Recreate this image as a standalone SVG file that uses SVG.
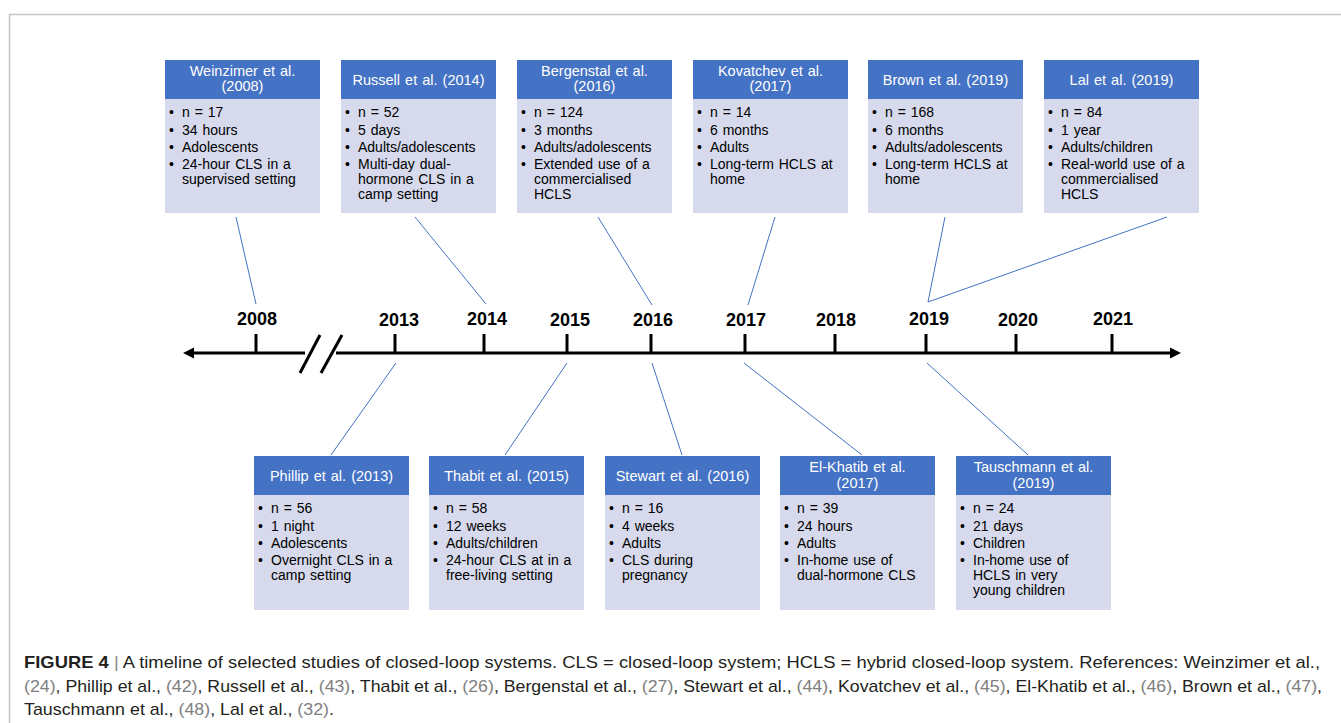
<svg xmlns="http://www.w3.org/2000/svg" width="1341" height="723" viewBox="0 0 1341 723">
<style>
.hd{fill:#4472C4}
.bd{fill:#D6DAEC}
.ht{font-family:"Liberation Sans",Arial,sans-serif;font-size:14.5px;word-spacing:1px;fill:#fff;text-anchor:middle}
.bt{font-family:"Liberation Sans",Arial,sans-serif;font-size:14px;word-spacing:1px;fill:#000}
.yr{font-family:"Liberation Sans",Arial,sans-serif;font-size:18px;font-weight:bold;fill:#000;text-anchor:middle}
.cn{stroke:#4472C4;stroke-width:1;fill:none}
.ax{stroke:#000;stroke-width:3;fill:none}
.cap{font-family:"Liberation Sans Narrow","Liberation Sans",Arial,sans-serif;font-size:17px;fill:#231F20}
.ref{fill:#808080}
</style>
<rect width="1341" height="723" fill="#fff"/>
<path d="M9.5 723 V14.5 H1341" stroke="#c4c4c4" stroke-width="1.5" fill="none"/>

<g id="connectors">
<line class="cn" x1="236" y1="217" x2="256" y2="304"/>
<line class="cn" x1="415" y1="217" x2="486" y2="304"/>
<line class="cn" x1="598" y1="217" x2="652" y2="305"/>
<line class="cn" x1="775" y1="217" x2="748" y2="305"/>
<line class="cn" x1="945" y1="217" x2="928" y2="302"/>
<line class="cn" x1="1167" y1="217" x2="928" y2="302"/>
<line class="cn" x1="396" y1="363" x2="331" y2="455"/>
<line class="cn" x1="567" y1="363" x2="505" y2="455"/>
<line class="cn" x1="652" y1="363" x2="682" y2="455"/>
<line class="cn" x1="744" y1="363" x2="862" y2="455"/>
<line class="cn" x1="927" y1="363" x2="1028" y2="455"/>
</g>

<g id="timeline">
<line class="ax" x1="190" y1="353" x2="305" y2="353"/>
<line class="ax" x1="336" y1="353" x2="1172" y2="353"/>
<path d="M183 353 L194 347.5 L194 358.5 Z" fill="#000"/>
<path d="M1181 353 L1170 347.5 L1170 358.5 Z" fill="#000"/>
<line class="ax" x1="300" y1="373" x2="320" y2="335"/>
<line class="ax" x1="321" y1="373" x2="342" y2="335"/>
<line class="ax" x1="256" y1="334" x2="256" y2="353"/>
<line class="ax" x1="395" y1="334" x2="395" y2="353"/>
<line class="ax" x1="484" y1="334" x2="484" y2="353"/>
<line class="ax" x1="567" y1="334" x2="567" y2="353"/>
<line class="ax" x1="651" y1="334" x2="651" y2="353"/>
<line class="ax" x1="745" y1="334" x2="745" y2="353"/>
<line class="ax" x1="835" y1="334" x2="835" y2="353"/>
<line class="ax" x1="926" y1="334" x2="926" y2="353"/>
<line class="ax" x1="1016" y1="334" x2="1016" y2="353"/>
<line class="ax" x1="1112" y1="334" x2="1112" y2="353"/>
<text class="yr" x="257" y="325">2008</text>
<text class="yr" x="399" y="326">2013</text>
<text class="yr" x="487" y="325">2014</text>
<text class="yr" x="570" y="326">2015</text>
<text class="yr" x="653" y="326">2016</text>
<text class="yr" x="746" y="326">2017</text>
<text class="yr" x="836" y="326">2018</text>
<text class="yr" x="929" y="325">2019</text>
<text class="yr" x="1018" y="326">2020</text>
<text class="yr" x="1113" y="325">2021</text>
</g>

<g id="weinzimer" transform="translate(165,60)">
<rect class="hd" width="155" height="39"/><rect class="bd" y="39" width="155" height="114"/>
<text class="ht" x="77.5" y="16">Weinzimer et al.</text><text class="ht" x="77.5" y="31">(2008)</text>
<text class="bt" y="57"><tspan x="4">•</tspan><tspan x="17">n = 17</tspan></text>
<text class="bt" y="75"><tspan x="4">•</tspan><tspan x="17">34 hours</tspan></text>
<text class="bt" y="92"><tspan x="4">•</tspan><tspan x="17">Adolescents</tspan></text>
<text class="bt" y="109"><tspan x="4">•</tspan><tspan x="17">24-hour CLS in a</tspan></text>
<text class="bt" x="17" y="124">supervised setting</text>
</g>

<g id="russell" transform="translate(341,60)">
<rect class="hd" width="155" height="39"/><rect class="bd" y="39" width="155" height="114"/>
<text class="ht" x="77.5" y="25">Russell et al. (2014)</text>
<text class="bt" y="57"><tspan x="4">•</tspan><tspan x="17">n = 52</tspan></text>
<text class="bt" y="75"><tspan x="4">•</tspan><tspan x="17">5 days</tspan></text>
<text class="bt" y="92"><tspan x="4">•</tspan><tspan x="17">Adults/adolescents</tspan></text>
<text class="bt" y="109"><tspan x="4">•</tspan><tspan x="17">Multi-day dual-</tspan></text>
<text class="bt" x="17" y="124">hormone CLS in a</text>
<text class="bt" x="17" y="139">camp setting</text>
</g>

<g id="bergenstal" transform="translate(517,60)">
<rect class="hd" width="155" height="39"/><rect class="bd" y="39" width="155" height="114"/>
<text class="ht" x="77.5" y="16">Bergenstal et al.</text><text class="ht" x="77.5" y="31">(2016)</text>
<text class="bt" y="57"><tspan x="4">•</tspan><tspan x="17">n = 124</tspan></text>
<text class="bt" y="75"><tspan x="4">•</tspan><tspan x="17">3 months</tspan></text>
<text class="bt" y="92"><tspan x="4">•</tspan><tspan x="17">Adults/adolescents</tspan></text>
<text class="bt" y="109"><tspan x="4">•</tspan><tspan x="17">Extended use of a</tspan></text>
<text class="bt" x="17" y="124">commercialised</text>
<text class="bt" x="17" y="139">HCLS</text>
</g>

<g id="kovatchev" transform="translate(693,60)">
<rect class="hd" width="155" height="39"/><rect class="bd" y="39" width="155" height="114"/>
<text class="ht" x="77.5" y="16">Kovatchev et al.</text><text class="ht" x="77.5" y="31">(2017)</text>
<text class="bt" y="57"><tspan x="4">•</tspan><tspan x="17">n = 14</tspan></text>
<text class="bt" y="75"><tspan x="4">•</tspan><tspan x="17">6 months</tspan></text>
<text class="bt" y="92"><tspan x="4">•</tspan><tspan x="17">Adults</tspan></text>
<text class="bt" y="109"><tspan x="4">•</tspan><tspan x="17">Long-term HCLS at</tspan></text>
<text class="bt" x="17" y="124">home</text>
</g>

<g id="brown" transform="translate(868,60)">
<rect class="hd" width="155" height="39"/><rect class="bd" y="39" width="155" height="114"/>
<text class="ht" x="77.5" y="25">Brown et al. (2019)</text>
<text class="bt" y="57"><tspan x="4">•</tspan><tspan x="17">n = 168</tspan></text>
<text class="bt" y="75"><tspan x="4">•</tspan><tspan x="17">6 months</tspan></text>
<text class="bt" y="92"><tspan x="4">•</tspan><tspan x="17">Adults/adolescents</tspan></text>
<text class="bt" y="109"><tspan x="4">•</tspan><tspan x="17">Long-term HCLS at</tspan></text>
<text class="bt" x="17" y="124">home</text>
</g>

<g id="lal" transform="translate(1044,60)">
<rect class="hd" width="155" height="39"/><rect class="bd" y="39" width="155" height="114"/>
<text class="ht" x="77.5" y="25">Lal et al. (2019)</text>
<text class="bt" y="57"><tspan x="4">•</tspan><tspan x="17">n = 84</tspan></text>
<text class="bt" y="75"><tspan x="4">•</tspan><tspan x="17">1 year</tspan></text>
<text class="bt" y="92"><tspan x="4">•</tspan><tspan x="17">Adults/children</tspan></text>
<text class="bt" y="109"><tspan x="4">•</tspan><tspan x="17">Real-world use of a</tspan></text>
<text class="bt" x="17" y="124">commercialised</text>
<text class="bt" x="17" y="139">HCLS</text>
</g>

<g id="phillip" transform="translate(254,456)">
<rect class="hd" width="155" height="39"/><rect class="bd" y="39" width="155" height="115"/>
<text class="ht" x="77.5" y="24.5">Phillip et al. (2013)</text>
<text class="bt" y="57"><tspan x="4">•</tspan><tspan x="17">n = 56</tspan></text>
<text class="bt" y="75"><tspan x="4">•</tspan><tspan x="17">1 night</tspan></text>
<text class="bt" y="92"><tspan x="4">•</tspan><tspan x="17">Adolescents</tspan></text>
<text class="bt" y="109"><tspan x="4">•</tspan><tspan x="17">Overnight CLS in a</tspan></text>
<text class="bt" x="17" y="124">camp setting</text>
</g>

<g id="thabit" transform="translate(429,456)">
<rect class="hd" width="155" height="39"/><rect class="bd" y="39" width="155" height="115"/>
<text class="ht" x="77.5" y="24.5">Thabit et al. (2015)</text>
<text class="bt" y="57"><tspan x="4">•</tspan><tspan x="17">n = 58</tspan></text>
<text class="bt" y="75"><tspan x="4">•</tspan><tspan x="17">12 weeks</tspan></text>
<text class="bt" y="92"><tspan x="4">•</tspan><tspan x="17">Adults/children</tspan></text>
<text class="bt" y="109"><tspan x="4">•</tspan><tspan x="17">24-hour CLS at in a</tspan></text>
<text class="bt" x="17" y="124">free-living setting</text>
</g>

<g id="stewart" transform="translate(605,456)">
<rect class="hd" width="155" height="39"/><rect class="bd" y="39" width="155" height="115"/>
<text class="ht" x="77.5" y="24.5">Stewart et al. (2016)</text>
<text class="bt" y="57"><tspan x="4">•</tspan><tspan x="17">n = 16</tspan></text>
<text class="bt" y="75"><tspan x="4">•</tspan><tspan x="17">4 weeks</tspan></text>
<text class="bt" y="92"><tspan x="4">•</tspan><tspan x="17">Adults</tspan></text>
<text class="bt" y="109"><tspan x="4">•</tspan><tspan x="17">CLS during</tspan></text>
<text class="bt" x="17" y="124">pregnancy</text>
</g>

<g id="elkhatib" transform="translate(780,456)">
<rect class="hd" width="155" height="39"/><rect class="bd" y="39" width="155" height="115"/>
<text class="ht" x="77.5" y="16">El-Khatib et al.</text><text class="ht" x="77.5" y="31.5">(2017)</text>
<text class="bt" y="57"><tspan x="4">•</tspan><tspan x="17">n = 39</tspan></text>
<text class="bt" y="75"><tspan x="4">•</tspan><tspan x="17">24 hours</tspan></text>
<text class="bt" y="92"><tspan x="4">•</tspan><tspan x="17">Adults</tspan></text>
<text class="bt" y="109"><tspan x="4">•</tspan><tspan x="17">In-home use of</tspan></text>
<text class="bt" x="17" y="124">dual-hormone CLS</text>
</g>

<g id="tauschmann" transform="translate(956,456)">
<rect class="hd" width="155" height="39"/><rect class="bd" y="39" width="155" height="115"/>
<text class="ht" x="77.5" y="16">Tauschmann et al.</text><text class="ht" x="77.5" y="31.5">(2019)</text>
<text class="bt" y="57"><tspan x="4">•</tspan><tspan x="17">n = 24</tspan></text>
<text class="bt" y="75"><tspan x="4">•</tspan><tspan x="17">21 days</tspan></text>
<text class="bt" y="92"><tspan x="4">•</tspan><tspan x="17">Children</tspan></text>
<text class="bt" y="109"><tspan x="4">•</tspan><tspan x="17">In-home use of</tspan></text>
<text class="bt" x="17" y="124">HCLS in very</text>
<text class="bt" x="17" y="139">young children</text>
</g>

<g id="caption">
<text class="cap" x="24" y="668" textLength="1296" lengthAdjust="spacingAndGlyphs"><tspan font-weight="bold">FIGURE 4</tspan> <tspan fill="#888">|</tspan> A timeline of selected studies of closed-loop systems. CLS = closed-loop system; HCLS = hybrid closed-loop system. References: Weinzimer et al.,</text>
<text class="cap" x="24" y="692" textLength="1298" lengthAdjust="spacingAndGlyphs"><tspan class="ref">(24)</tspan>, Phillip et al., <tspan class="ref">(42)</tspan>, Russell et al., <tspan class="ref">(43)</tspan>, Thabit et al., <tspan class="ref">(26)</tspan>, Bergenstal et al., <tspan class="ref">(27)</tspan>, Stewart et al., <tspan class="ref">(44)</tspan>, Kovatchev et al., <tspan class="ref">(45)</tspan>, El-Khatib et al., <tspan class="ref">(46)</tspan>, Brown et al., <tspan class="ref">(47)</tspan>,</text>
<text class="cap" x="24" y="715" textLength="310" lengthAdjust="spacingAndGlyphs">Tauschmann et al., <tspan class="ref">(48)</tspan>, Lal et al., <tspan class="ref">(32)</tspan>.</text>
</g>
</svg>
